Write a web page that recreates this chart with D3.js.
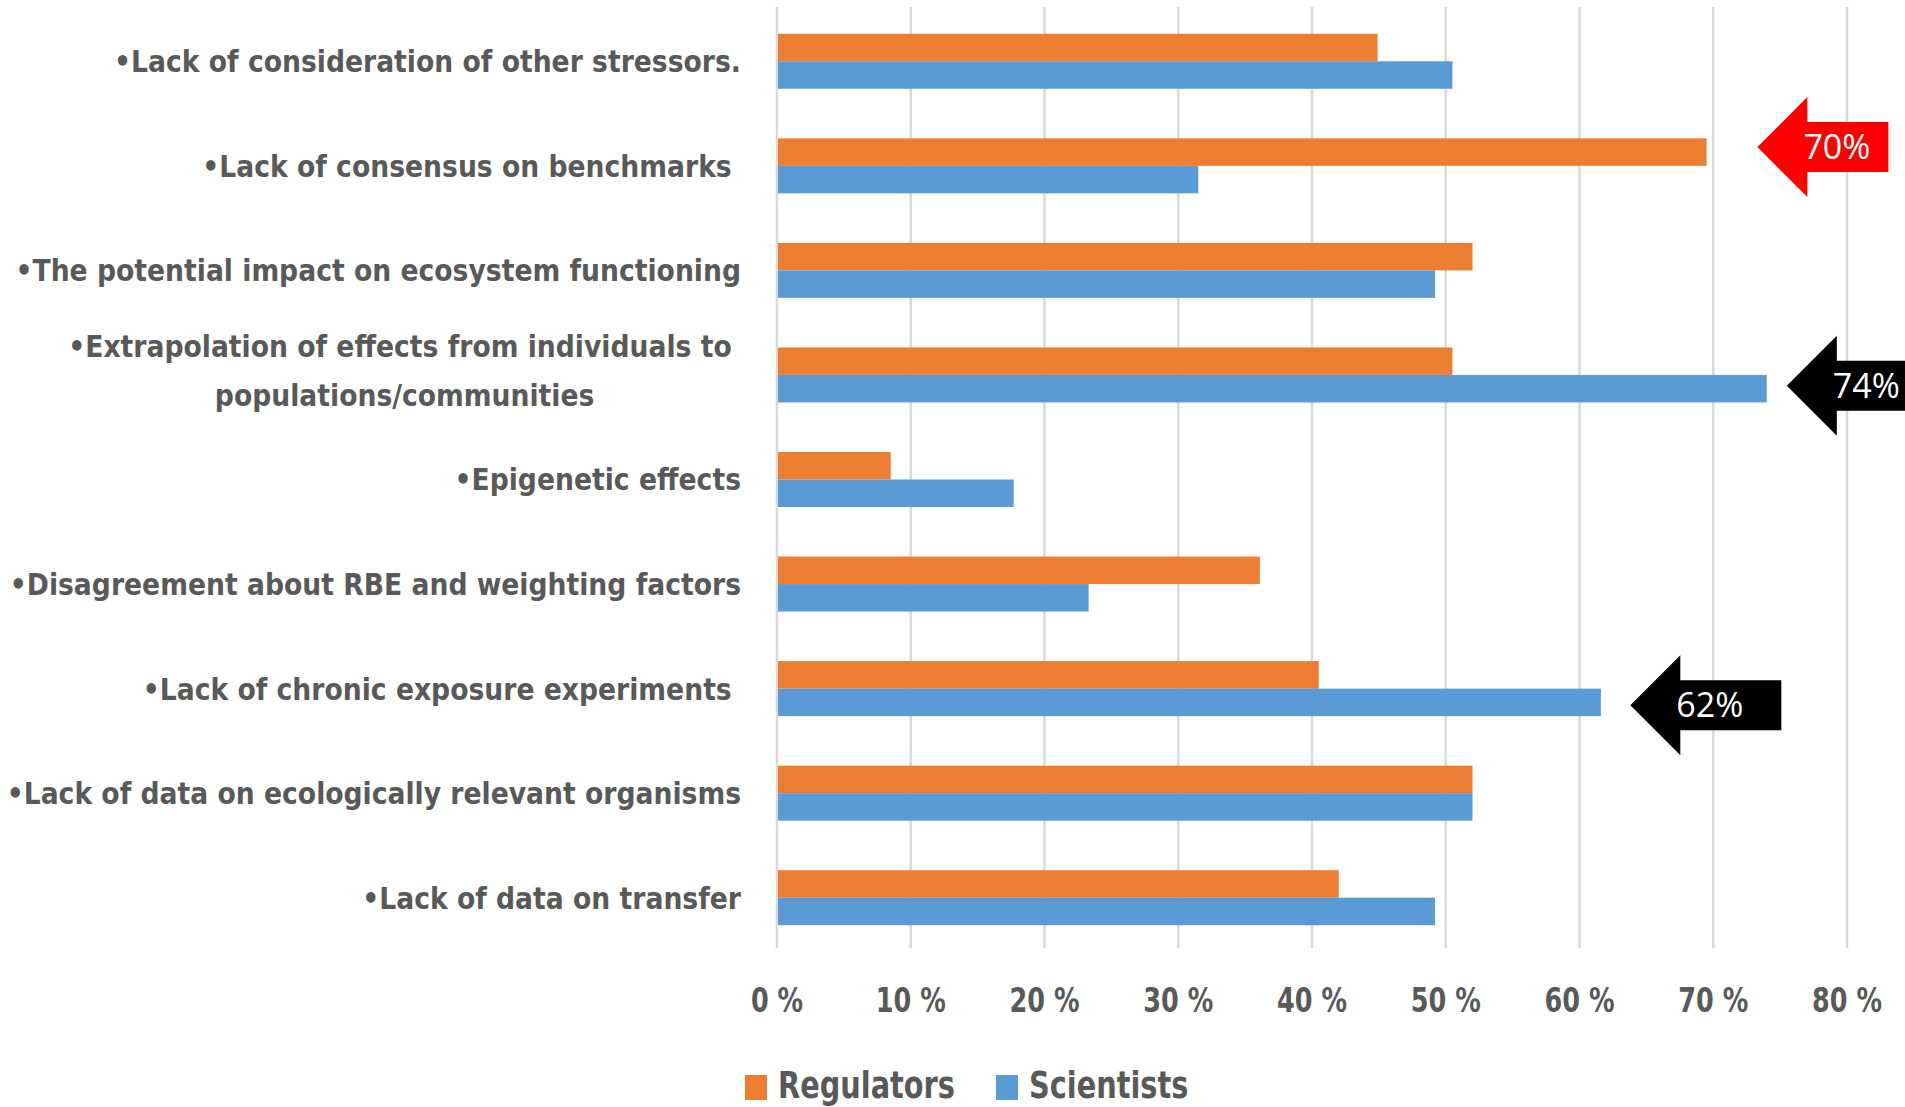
<!DOCTYPE html>
<html>
<head>
<meta charset="utf-8">
<script src="https://cdn.jsdelivr.net/npm/d3@7"></script>
<style>
  html, body { margin: 0; padding: 0; background: #fff; }
  text { white-space: pre; }
</style>
</head>
<body>
<svg id="chart" width="1905" height="1107"></svg>
<script>
// categories top to bottom, "\n" marks a wrapped label
const categories = [
  "\u2022Lack of consideration of other stressors.",
  "\u2022Lack of consensus on benchmarks ",
  "\u2022The potential impact on ecosystem functioning",
  "\u2022Extrapolation of effects from individuals to \npopulations/communities",
  "\u2022Epigenetic effects",
  "\u2022Disagreement about RBE and weighting factors",
  "\u2022Lack of chronic exposure experiments ",
  "\u2022Lack of data on ecologically relevant organisms",
  "\u2022Lack of data on transfer"
];
const seriesNames = ["Regulators", "Scientists"];
const regulators = [0.449, 0.695, 0.52, 0.505, 0.085, 0.361, 0.405, 0.52, 0.42];
const scientists = [0.505, 0.315, 0.492, 0.74, 0.177, 0.233, 0.616, 0.52, 0.492];
const ticks = [0, 0.1, 0.2, 0.3, 0.4, 0.5, 0.6, 0.7, 0.8];
// callout arrows: which bar they point at, where the tip sits (value units), text
const callouts = [
  { cat: 1, series: "Regulators", tip: 0.733, label: "70%", color: "#ff0000", body: 81, dy: -5 },
  { cat: 3, series: "Scientists", tip: 0.755, label: "74%", color: "#000000", body: 120, dy: -3 },
  { cat: 6, series: "Scientists", tip: 0.638, label: "62%", color: "#000000", body: 101, dy: 3 }
];

const colors = { Regulators: "#ED7D31", Scientists: "#5B9BD5" };
const textColor = "#595959";
const labelFont = "'Liberation Sans Narrow', 'DejaVu Sans Condensed', 'Open Sans', sans-serif";

const rows = categories.map((c, i) => ({
  cat: c, Regulators: regulators[i], Scientists: scientists[i]
}));

const svg = d3.select("#chart");

const x = d3.scaleLinear().domain([0, 0.8]).range([777, 1847]);
const y = d3.scaleBand().domain(d3.range(categories.length))
  .range([9, 950]).paddingInner(0.474).paddingOuter(0.237);
const ySub = d3.scaleBand().domain(seriesNames).range([0, y.bandwidth()]);

// squeeze a text horizontally around its anchor so it matches a measured width
function fit(sel, target, sample) {
  const probe = svg.append("text").text(sample)
    .attr("font-family", sel.attr("font-family"))
    .attr("font-size", sel.attr("font-size"))
    .attr("font-weight", sel.attr("font-weight"));
  const k = target / probe.node().getComputedTextLength();
  probe.remove();
  sel.each(function () {
    const t = d3.select(this);
    const ax = +t.attr("x");
    t.attr("transform", `translate(${ax},0) scale(${k},1) translate(${-ax},0)`);
  });
}

// gridlines
svg.append("g")
  .selectAll("line")
  .data(ticks)
  .join("line")
  .attr("x1", (d) => x(d))
  .attr("x2", (d) => x(d))
  .attr("y1", 7)
  .attr("y2", 948)
  .attr("stroke", "#d9d9d9")
  .attr("stroke-width", 2.5);

// bars
const groups = svg.append("g")
  .selectAll("g")
  .data(rows)
  .join("g")
  .attr("transform", (d, i) => `translate(0,${y(i)})`);

groups.selectAll("rect")
  .data((d) => seriesNames.map((s) => ({ s, v: d[s] })))
  .join("rect")
  .attr("x", x(0) + 1)
  .attr("y", (d) => ySub(d.s))
  .attr("width", (d) => x(d.v) - x(0) - 1)
  .attr("height", ySub.bandwidth())
  .attr("fill", (d) => colors[d.s]);

// category labels
const labelX = 741;
const lineGap = 49;
categories.forEach((c, i) => {
  const lines = c.split("\n");
  const cy = y(i) + y.bandwidth() / 2;
  const g = svg.append("g");
  const t = g.selectAll("text")
    .data(lines)
    .join("text")
    .attr("x", labelX)
    .attr("y", (d, j) => cy + 11 + (j - (lines.length - 1) / 2) * lineGap - (lines.length > 1 ? 4 : 0))
    .attr("text-anchor", "end")
    .attr("font-family", labelFont)
    .attr("font-size", 31)
    .attr("font-weight", "bold")
    .attr("fill", textColor)
    .text((d) => d);
  fit(t, 726, "\u2022The potential impact on ecosystem functioning");
  if (lines.length > 1) {
    // wrapped lines are centred on the first line
    const nodes = t.nodes();
    const w0 = nodes[0].getBoundingClientRect();
    const mid = (w0.left + w0.right) / 2;
    d3.selectAll(nodes.slice(1))
      .attr("x", mid)
      .attr("text-anchor", "middle");
    fit(d3.selectAll(nodes.slice(1)), 726, "\u2022The potential impact on ecosystem functioning");
  }
});

// tick labels
const tl = svg.append("g")
  .selectAll("text")
  .data(ticks)
  .join("text")
  .attr("x", (d) => x(d))
  .attr("y", 1012)
  .attr("text-anchor", "middle")
  .attr("font-family", labelFont)
  .attr("font-size", 33)
  .attr("font-weight", "bold")
  .attr("fill", textColor)
  .text((d) => `${Math.round(d * 100)} %`);
fit(tl, 70, "10 %");

// legend
const legendX = [745, 996];
const leg = svg.append("g")
  .selectAll("g")
  .data(seriesNames)
  .join("g");
leg.append("rect")
  .attr("x", (d, i) => legendX[i])
  .attr("y", 1075)
  .attr("width", 22)
  .attr("height", 25)
  .attr("fill", (d) => colors[d]);
const legText = leg.append("text")
  .attr("x", (d, i) => legendX[i] + 33)
  .attr("y", 1098)
  .attr("font-family", labelFont)
  .attr("font-size", 37)
  .attr("font-weight", "bold")
  .attr("fill", textColor)
  .text((d) => d);
fit(legText, 177, "Regulators");

// callout arrows
const head = 50, half = 50, bodyHalf = 25;
const arrows = svg.append("g")
  .selectAll("g")
  .data(callouts)
  .join("g")
  .attr("transform", (d) => {
    const ty = y(d.cat) + ySub(d.series) + ySub.bandwidth() / 2 + d.dy;
    return `translate(${x(d.tip)},${ty})`;
  });
arrows.append("path")
  .attr("d", (d) => {
    const p = d3.path();
    p.moveTo(0, 0);
    p.lineTo(head, -half);
    p.lineTo(head, -bodyHalf);
    p.lineTo(head + d.body, -bodyHalf);
    p.lineTo(head + d.body, bodyHalf);
    p.lineTo(head, bodyHalf);
    p.lineTo(head, half);
    p.closePath();
    return p.toString();
  })
  .attr("fill", (d) => d.color);
const arrowText = arrows.append("text")
  .attr("x", head - 4)
  .attr("y", 12)
  .attr("font-family", "'Open Sans', 'Liberation Sans', sans-serif")
  .attr("font-size", 34)
  .attr("fill", "#fff")
  .text((d) => d.label);
fit(arrowText, 67, "70%");
</script>
</body>
</html>
